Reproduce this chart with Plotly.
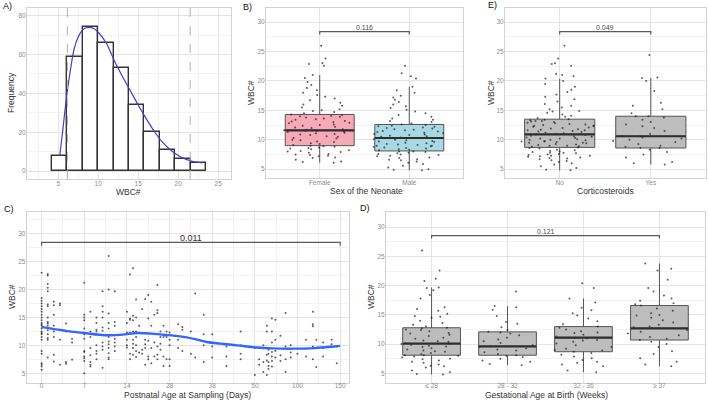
import numpy as np
import plotly.graph_objects as go

W, H = 709, 401
FONT = "Liberation Sans, Arial, sans-serif"

# ---------------- Panel A: histogram of WBC ----------------
hist_counts = [8, 59, 74, 66, 53, 34, 20, 11, 6, 4]
hist_start = 4.2
hist_binwidth = 1.93
ref_limits = [6.15, 21.5]
dens_x = [5.2, 5.6, 6.1, 6.6, 7.0, 7.5, 8.0, 8.5, 9.0, 9.5, 10.0, 11.0, 12.0, 13.0,
          14.0, 15.0, 16.0, 17.0, 18.0, 19.0, 20.0, 21.0, 22.0, 23.0]
dens_y = [8, 22, 40, 54, 63, 69, 72.5, 73.8, 74, 73.3, 71.5, 66, 57, 49,
          41.5, 34, 27, 20.5, 15, 11, 8, 6, 4.8, 4.2]

# ---------------- Panel B: sex ----------------
sex_labels = ["Female", "Male"]
sex_q1 = [9.0, 8.1]
sex_median = [11.6, 10.3]
sex_q3 = [14.3, 12.6]
sex_lo = [6.1, 4.8]
sex_hi = [21.0, 19.0]
sex_p = "0.116"
wbc_female = [6.1, 6.2, 6.3, 6.6, 6.9, 7.0, 7.2, 7.3, 7.4, 7.5, 7.6, 7.8, 7.9, 8.0, 8.1, 8.2, 8.4,
              8.5, 8.6, 8.7, 8.8, 8.9, 9.0, 9.1, 9.3, 9.4, 9.6, 9.7, 9.9, 10.0, 10.2, 10.3, 10.5,
              10.6, 10.8, 10.9, 11.0, 11.1, 11.2, 11.3, 11.4, 11.5, 11.5, 11.6, 11.7, 11.8, 12.0,
              12.1, 12.2, 12.4, 12.5, 12.6, 12.8, 12.9, 13.0, 13.1, 13.2, 13.4, 13.5, 13.6, 13.8,
              13.9, 14.0, 14.1, 14.2, 14.3, 14.5, 14.7, 14.9, 15.0, 15.2, 15.5, 15.8, 16.0, 16.3,
              16.7, 17.0, 17.3, 17.6, 18.0, 18.4, 18.8, 19.3, 19.8, 20.5, 21.0, 22.9, 23.0, 23.8,
              26.0, 22.6]
wbc_male = [4.8, 4.9, 5.0, 5.3, 5.6, 5.9, 6.1, 6.3, 6.5, 6.7, 6.9, 7.0, 7.2, 7.3, 7.5, 7.6, 7.7,
            7.8, 7.9, 8.0, 8.0, 7.4, 6.6, 8.2, 8.3, 8.4, 8.6, 8.7, 8.8, 8.9, 9.0, 9.1, 9.2, 9.3,
            9.4, 9.5, 9.6, 9.7, 9.8, 9.9, 10.0, 10.1, 10.2, 10.3, 8.5, 9.0, 10.4, 10.5, 10.6, 10.7,
            10.8, 10.9, 11.0, 11.1, 11.2, 11.3, 11.4, 11.5, 11.6, 11.7, 11.8, 11.9, 12.0, 12.1,
            12.2, 12.3, 12.4, 12.5, 12.6, 12.8, 13.0, 13.2, 13.4, 13.6, 13.9, 14.2, 14.5, 14.8,
            15.1, 15.4, 15.7, 16.0, 16.4, 16.8, 17.2, 17.5, 18.0, 18.4, 19.0, 20.4, 20.8, 21.3, 22.6]

# ---------------- Panel E: corticosteroids ----------------
cs_labels = ["No", "Yes"]
cs_q1 = [8.7, 8.6]
cs_median = [10.9, 10.6]
cs_q3 = [13.5, 14.0]
cs_lo = [4.8, 5.8]
cs_hi = [20.4, 20.5]
cs_p = "0.049"
wbc_cs_no = [4.8, 4.9, 5.2, 5.5, 5.8, 6.0, 6.2, 6.4, 6.5, 6.7, 6.9, 7.0, 7.1, 7.2, 7.3, 7.4, 7.5,
             7.6, 7.7, 7.8, 7.9, 8.0, 8.2, 8.3, 8.5, 8.6, 8.7, 8.8, 8.9, 9.0, 9.1, 9.2, 9.3, 9.4,
             9.5, 9.6, 9.7, 9.8, 9.9, 10.0, 10.1, 10.2, 10.3, 10.4, 10.5, 10.6, 10.7, 10.8, 10.9,
             9.0, 9.5, 10.0, 11.0, 11.1, 11.2, 11.3, 11.4, 11.5, 11.6, 11.7, 11.8, 11.9, 12.0,
             12.1, 12.2, 12.3, 12.4, 12.5, 12.6, 12.7, 12.8, 12.9, 13.0, 13.1, 13.2, 13.3, 13.4,
             13.5, 13.7, 13.9, 14.1, 14.3, 14.6, 14.9, 15.2, 15.5, 15.8, 16.1, 16.5, 16.9, 17.3,
             17.7, 18.1, 18.5, 19.0, 19.5, 20.0, 20.4, 20.8, 21.0, 21.2, 22.6, 22.9, 23.0, 23.8,
             26.0, 7.3, 7.8, 8.1, 6.8, 9.7, 10.2, 11.6, 12.4, 13.2, 14.8]
wbc_cs_yes = [5.8, 6.0, 6.2, 7.0, 7.5, 7.9, 8.3, 8.6, 8.6, 8.8, 9.0, 9.3, 9.6, 9.8, 10.0, 10.2,
              10.4, 10.6, 10.6, 11.0, 11.5, 12.0, 12.3, 12.6, 13.0, 13.4, 13.8, 14.0, 14.0, 14.5,
              15.2, 15.8, 16.3, 18.3, 20.0, 20.5, 20.6, 24.4]

# ---------------- Panel C: postnatal age ----------------
age_tick_days = [0, 7, 14, 28, 38, 50, 100, 150]
age_tick_labels = ["0", "7", "14", "28", "38", "50", "100", "150"]
age_p = "0.011"
age_points = {
    0: [23, 18.5, 18, 17.5, 17, 16.5, 16, 15.5, 15, 14.5, 14, 13.5, 13, 12.5, 12, 11.5, 11, 9,
        8.5, 6.8, 6.5, 6.2, 5.6, 12.2, 13.8],
    1: [22.8, 22.5, 21, 20.3, 19.7, 17.3, 17, 15, 14.2, 13.9, 13.5, 12.7, 12, 11.3, 11, 7.8],
    2: [17.8, 17.2, 15.5, 13.5, 12.5, 11.5, 8.3, 7.1],
    3: [17.5, 17.2, 12.8, 11, 6.5],
    4: [13.9, 12.5, 7, 6.7],
    5: [11.2, 10.5, 7.4],
    7: [21.2, 15.5, 15, 14.5, 13, 12, 11.2, 9, 8.8, 8, 7.7, 7.2, 5],
    8: [16, 12.5, 11.5, 9.5, 8.2, 7, 6.5, 6.2],
    9: [15, 14, 12.8, 12.5, 10, 9, 8.5, 7.5],
    10: [19.7, 17, 16, 15, 13.2, 12.6, 10.5, 9.8, 9.2, 6],
    11: [20, 26, 15.7, 14, 13, 11.5, 10.7, 10.2, 9.5, 8.6, 7.8, 7.5],
    12: [19.7, 14.2, 13.5, 11.8, 11.2, 10.5, 9.8, 9],
    14: [16, 14, 12.3, 11, 10, 9.6],
    15: [22.7, 14.8, 14.6, 12.3, 8.5, 7.5],
    16: [23.8, 15.3, 14.5, 12.5, 11, 10.3, 9.5, 8.3],
    17: [18.2, 15, 12.5, 11.5, 10, 9, 7.9],
    18: [13.5, 8.7],
    19: [16.5, 8.5, 9.2],
    20: [18.3, 11, 10.2, 6.5, 9.5],
    21: [19, 14.8, 10.8, 8, 7.5],
    22: [17.8, 13.5, 9.5, 6.8],
    23: [15.5, 12, 10.5, 8],
    24: [20.8, 16.3, 15.8, 9.8, 8.3, 7.5],
    25: [12.5, 11.5, 10.3, 9.2],
    26: [13.5, 11.5, 8, 6.3],
    27: [12.5, 11.5, 7.5],
    28: [12.3, 11, 10, 7.5, 6.3],
    30: [13.8, 11, 9.5],
    31: [13.3, 12.8, 9],
    33: [12.5, 8.5],
    34: [19.3, 7.8],
    36: [15.5, 12, 10, 7],
    38: [12, 9.8, 7.8],
    42: [9.8, 8, 6.3],
    46: [12.5, 10, 8.5, 7.5],
    50: [4.7, 9.5],
    55: [7.5, 6.5],
    60: [10, 7, 5.2],
    64: [13.5, 12.5, 9.5, 8.3, 7.3, 4.7],
    66: [9.2, 8.5, 7, 6.3, 5.8],
    70: [14.8, 12.5, 10.5, 8.8, 8, 7.2, 6.2],
    74: [14.6, 11, 9, 7.8],
    80: [11.7, 8.2, 7.2],
    86: [15.8, 9.8, 7.5, 5.2],
    92: [10, 8.7, 7.8],
    100: [8.5],
    110: [8, 11],
    118: [16, 13.8, 13.4, 9.8, 7.5],
    122: [11, 9.5, 6.1],
    130: [10.5, 9.5, 8],
    140: [11, 10.2],
    146: [9.8, 6.8],
}
smooth_days = [0, 2, 4, 7, 10.7, 14, 17.2, 22, 26, 30.5, 34, 36.7, 40.3, 45, 52.5, 70, 95, 120, 143, 150]
smooth_wbc = [13.3, 12.9, 12.6, 12.2, 11.8, 12.0, 12.2, 12.1, 11.9, 11.6, 11.1, 10.6, 10.3, 10.0,
              9.6, 9.45, 9.4, 9.5, 9.8, 9.9]

# ---------------- Panel D: gestational age ----------------
ga_labels = ["≤ 28", "28 - 32", "32 - 36", "≥ 37"]
ga_q1 = [8.1, 8.1, 8.7, 10.7]
ga_median = [10.1, 9.6, 11.1, 12.7]
ga_q3 = [12.8, 12.1, 13.0, 16.6]
ga_lo = [4.8, 6.4, 5.2, 6.2]
ga_hi = [19.7, 16.5, 17.8, 23.8]
ga_p = "0.121"
wbc_ga = [
    [4.8, 4.9, 5.2, 5.5, 6.0, 6.3, 6.5, 6.8, 7.0, 7.2, 7.5, 7.7, 7.9, 8.0, 8.1, 8.1, 8.3, 8.5, 8.7,
     8.9, 9.1, 9.3, 9.5, 9.7, 9.9, 10.0, 10.1, 10.2, 10.4, 10.6, 10.9, 11.1, 11.4, 11.6, 11.9,
     12.2, 12.5, 12.7, 12.8, 13.0, 13.3, 13.6, 14.0, 14.5, 14.8, 15.2, 15.7, 16.0, 16.3, 17.8,
     18.4, 19.2, 19.6, 19.7, 20.8, 21.2, 22.6, 26.0, 7.4, 8.8, 9.6, 10.5, 11.8, 12.4, 6.2, 14.7],
    [6.4, 6.6, 7.0, 7.2, 7.5, 7.8, 8.0, 8.1, 8.3, 8.6, 8.9, 9.1, 9.3, 9.5, 9.6, 9.8, 10.2, 10.5,
     10.8, 11.1, 11.5, 11.8, 12.0, 12.1, 12.4, 12.9, 13.5, 13.8, 14.8, 15.9, 16.3, 16.5, 19.0],
    [5.2, 5.5, 6.2, 6.5, 6.8, 7.0, 7.3, 7.6, 7.9, 8.2, 8.5, 8.7, 8.9, 9.2, 9.5, 9.8, 10.1, 10.4,
     10.7, 11.0, 11.1, 11.3, 11.6, 11.9, 12.2, 12.5, 12.8, 13.0, 13.4, 13.9, 14.4, 14.9, 15.3,
     15.8, 16.2, 17.1, 17.8, 19.6, 20.4, 9.0, 10.6, 12.0],
    [6.2, 6.5, 7.0, 7.6, 8.3, 8.8, 9.5, 10.0, 10.4, 10.7, 10.9, 11.2, 11.5, 11.8, 12.1, 12.4,
     12.7, 12.9, 13.3, 13.7, 14.1, 14.5, 14.9, 15.3, 15.7, 16.1, 16.6, 17.0, 17.4, 17.8, 18.3,
     19.0, 19.6, 21.0, 22.6, 22.9, 23.8, 16.8, 15.0, 13.0],
]

# ---------------- styling ----------------
GRID = "#E4E4E4"
MINOR = "#F2F2F2"
BORDER = "#D2D2D2"
TICKFONT = dict(family=FONT, size=6.5, color="#8C8C8C")
BOX_W = 0.77
PT_COLOR = "rgba(25,25,25,0.7)"

fig = go.Figure()


def px2x(px):
    return px / W


def px2y(py):
    return 1 - py / H


def axis(domain, rng, anchor, tickvals, ticktext=None, minor_dtick=None, standoff=0):
    d = dict(domain=domain, range=rng, anchor=anchor, showline=True, mirror=True,
             linecolor=BORDER, linewidth=1, showgrid=True, gridcolor=GRID, gridwidth=0.8,
             zeroline=False, ticks="", tickfont=TICKFONT, automargin=False,
             tickmode="array", tickvals=tickvals, fixedrange=True,
             ticklabelstandoff=standoff)
    if ticktext is not None:
        d["ticktext"] = ticktext
    if minor_dtick is not None:
        d["minor"] = dict(showgrid=True, gridcolor=MINOR, gridwidth=0.6,
                          tickmode="linear", tick0=0, dtick=minor_dtick, ticks="")
    return d


# domains (pixel measured)
dom = {
    "A": ([px2x(27), px2x(231)], [px2y(179), px2y(8)]),
    "B": ([px2x(266), px2x(463)], [px2y(178), px2y(8)]),
    "E": ([px2x(505), px2x(705.5)], [px2y(178), px2y(8)]),
    "C": ([px2x(26.7), px2x(348.7)], [px2y(382.7), px2y(212)]),
    "D": ([px2x(386), px2x(705)], [px2y(382.7), px2y(212)]),
}

layout = dict(
    width=W, height=H, margin=dict(l=0, r=0, t=0, b=0),
    paper_bgcolor="white", plot_bgcolor="white", showlegend=False,
    template="none", boxmode="overlay", bargap=0,
    font=dict(family=FONT),
)

yticks_wbc = [5, 10, 15, 20, 25, 30]
layout["xaxis"] = axis(dom["A"][0], [1.1, 26.6], "y", [5, 10, 15, 20, 25], minor_dtick=2.5, standoff=-2)
layout["yaxis"] = axis(dom["A"][1], [-4.1, 84], "x", [0, 20, 40, 60, 80], minor_dtick=10, standoff=-1)
layout["xaxis2"] = axis(dom["B"][0], [-0.6, 1.6], "y2", [0, 1], sex_labels, standoff=-2)
layout["yaxis2"] = axis(dom["B"][1], [3.5, 32.4], "x2", yticks_wbc, minor_dtick=2.5, standoff=-1)
layout["xaxis3"] = axis(dom["E"][0], [-0.6, 1.6], "y3", [0, 1], cs_labels, standoff=-2)
layout["yaxis3"] = axis(dom["E"][1], [3.5, 32.4], "x3", yticks_wbc, minor_dtick=2.5, standoff=-1)
layout["xaxis4"] = axis(dom["C"][0], [-0.35, 7.2], "y4", list(range(len(age_tick_days))),
                        age_tick_labels, minor_dtick=0.5, standoff=-4)
layout["yaxis4"] = axis(dom["C"][1], [3.3, 33.9], "x4", yticks_wbc, minor_dtick=2.5, standoff=-1)
layout["xaxis5"] = axis(dom["D"][0], [-0.6, 3.6], "y5", list(range(len(ga_labels))), ga_labels, standoff=-4)
layout["yaxis5"] = axis(dom["D"][1], [3.4, 32.6], "x5", yticks_wbc, minor_dtick=2.5, standoff=-1)

# ---------------- Panel A traces ----------------
edges = hist_start + hist_binwidth * np.arange(len(hist_counts))
centers = edges + hist_binwidth / 2
fig.add_trace(go.Bar(x=centers, y=hist_counts, width=hist_binwidth,
                     marker=dict(color="white", line=dict(color="#333333", width=1.4)),
                     xaxis="x", yaxis="y"))
fig.add_trace(go.Scatter(x=dens_x, y=dens_y, mode="lines", line=dict(color="#3F3FC8", width=1.2, shape="spline"),
                         xaxis="x", yaxis="y"))
shapes = []
for v in ref_limits:
    shapes.append(dict(type="line", xref="x", yref="y domain", x0=v, x1=v, y0=0, y1=1,
                       line=dict(color="#B0B0B0", width=1, dash="dash")))


# ---------------- box panels ----------------
def box_panel(xa, ya, q1, med, q3, lo, hi, groups, fills, width=BOX_W):
    n = len(q1)
    if isinstance(fills, str):
        fills = [fills] * n
    for i in range(n):
        fig.add_trace(go.Box(x=[i], q1=[q1[i]], median=[med[i]], q3=[q3[i]],
                             lowerfence=[lo[i]], upperfence=[hi[i]], width=width,
                             fillcolor=fills[i], line=dict(color="#555555", width=1),
                             whiskerwidth=0, boxpoints=False, xaxis=xa, yaxis=ya))
        fig.add_trace(go.Scatter(x=[i - width / 2, i + width / 2], y=[med[i], med[i]], mode="lines",
                                 line=dict(color="#2E2E2E", width=2.2), xaxis=xa, yaxis=ya))
    for i, vals in enumerate(groups):
        fig.add_trace(go.Box(x=[i] * len(vals), y=vals, width=0.85, boxpoints="all", jitter=1,
                             pointpos=0, fillcolor="rgba(0,0,0,0)",
                             line=dict(color="rgba(0,0,0,0)", width=0),
                             marker=dict(size=2, color=PT_COLOR, line=dict(width=0)),
                             xaxis=xa, yaxis=ya))


annotations = []


def bracket(xa, ya, x0, x1, yb, tip, label, size=7, dy=0.75, color="#4D4D4D"):
    fig.add_trace(go.Scatter(x=[x0, x0, x1, x1], y=[yb - tip, yb, yb, yb - tip], mode="lines",
                             line=dict(color="#5A5A5A", width=1.2), xaxis=xa, yaxis=ya))
    annotations.append(dict(x=(x0 + x1) / 2, y=yb + dy, xref=xa, yref=ya, text=label,
                            showarrow=False, font=dict(family=FONT, size=size, color=color),
                            xanchor="center", yanchor="middle"))


box_panel("x2", "y2", sex_q1, sex_median, sex_q3, sex_lo, sex_hi, [wbc_female, wbc_male],
          ["#F7A9B7", "#A9D8E5"])
bracket("x2", "y2", 0, 1, 28.4, 0.5, sex_p)

box_panel("x3", "y3", cs_q1, cs_median, cs_q3, cs_lo, cs_hi, [wbc_cs_no, wbc_cs_yes], "#BDBDBD")
bracket("x3", "y3", 0, 1, 28.4, 0.5, cs_p)

box_panel("x5", "y5", ga_q1, ga_median, ga_q3, ga_lo, ga_hi, wbc_ga, "#BDBDBD", width=0.76)
bracket("x5", "y5", 0, 3, 28.55, 0.5, ga_p, dy=0.7)

# ---------------- Panel C traces ----------------
tick_idx = np.arange(len(age_tick_days))
c_days, c_wbc = [], []
for d, vals in age_points.items():
    c_days += [d] * len(vals)
    c_wbc += vals
c_x = np.interp(c_days, age_tick_days, tick_idx)
fig.add_trace(go.Scatter(x=c_x, y=c_wbc, mode="markers",
                         marker=dict(size=2, color=PT_COLOR, line=dict(width=0)),
                         xaxis="x4", yaxis="y4"))
fig.add_trace(go.Scatter(x=np.interp(smooth_days, age_tick_days, tick_idx), y=smooth_wbc,
                         mode="lines", line=dict(color="#3366FF", width=2.4, shape="spline"),
                         xaxis="x4", yaxis="y4"))
bracket("x4", "y4", 0, len(age_tick_days) - 1, 28.45, 0.6, age_p, size=9, dy=0.85, color="#333333")


# ---------------- text: axis titles, panel labels ----------------
def txt(x, y, s, size=8.5, angle=0, color="#333333", xanchor="center"):
    annotations.append(dict(x=px2x(x), y=px2y(y), xref="paper", yref="paper", text=s,
                            showarrow=False, textangle=angle, xanchor=xanchor, yanchor="middle",
                            font=dict(family=FONT, size=size, color=color)))


txt(128, 192, "WBC#")
txt(11, 93, "Frequency", angle=-90)
txt(366.5, 191.5, "Sex of the Neonate")
txt(251, 93, "WBC#", angle=-90)
txt(605.5, 191.5, "Corticosteroids")
txt(491, 93, "WBC#", angle=-90)
txt(188, 395, "Postnatal Age at Sampling (Days)")
txt(12, 297, "WBC#", angle=-90)
txt(546.5, 395, "Gestational Age at Birth (Weeks)")
txt(371, 297, "WBC#", angle=-90)

txt(1, 6, "A)", size=9, color="#111111", xanchor="left")
txt(241, 6.5, "B)", size=9, color="#111111", xanchor="left")
txt(486, 5.5, "E)", size=9, color="#111111", xanchor="left")
txt(2, 209, "C)", size=9, color="#111111", xanchor="left")
txt(358, 208, "D)", size=9, color="#111111", xanchor="left")

layout["annotations"] = annotations
layout["shapes"] = shapes
fig.update_layout(**layout)
fig.write_html("out.html")
